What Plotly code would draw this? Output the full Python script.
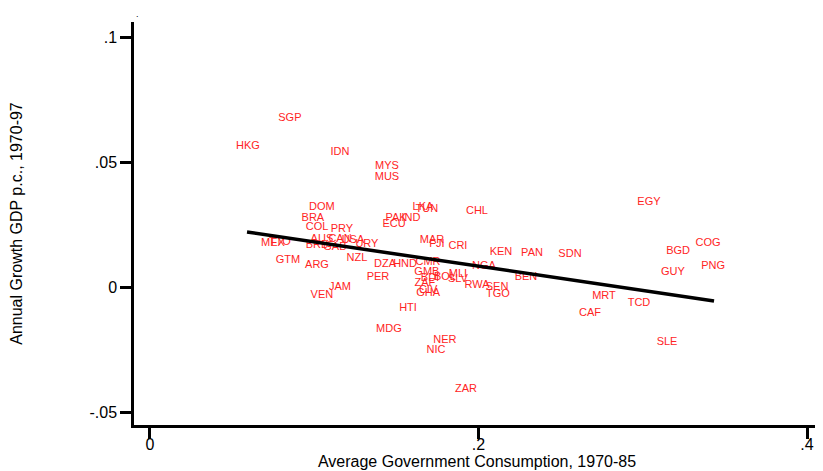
import plotly.graph_objects as go

# Country codes and positions
countries = ['SGP', 'HKG', 'IDN', 'MYS', 'MUS', 'DOM', 'BRA', 'LKA', 'TUN', 'CHL',
             'PAK', 'IND', 'ECU', 'COL', 'PRY', 'MEX', 'TTO', 'AUS', 'CAN', 'USA',
             'BRB', 'GAB', 'URY', 'GTM', 'ARG', 'NZL', 'DZA', 'HND', 'CMR', 'MAR',
             'FJI', 'PER', 'GMB', 'JAM', 'VEN', 'HTI', 'CRI', 'KEN', 'PAN', 'SDN',
             'NGA', 'BEN', 'MLI', 'SLV', 'BDI', 'BOL', 'ZAF', 'RWA', 'SEN', 'TGO',
             'CIV', 'GHA', 'MDG', 'NER', 'NIC', 'ZAR', 'EGY', 'COG', 'BGD', 'PNG',
             'GUY', 'MRT', 'TCD', 'CAF', 'SLE']

gov_consumption = [0.0852, 0.0597, 0.1157, 0.1443, 0.1443, 0.1047, 0.0992, 0.1662, 0.1686, 0.1991,
                   0.1498, 0.1589, 0.1486, 0.1017, 0.1169, 0.0749, 0.0791, 0.1047, 0.1157, 0.1236,
                   0.1017, 0.1126, 0.1321, 0.0840, 0.1017, 0.1260, 0.1431, 0.1553, 0.1693, 0.1717,
                   0.1747, 0.1388, 0.1686, 0.1157, 0.1047, 0.1571, 0.1875, 0.2137, 0.2326, 0.2557,
                   0.2033, 0.2289, 0.1875, 0.1875, 0.1705, 0.1796, 0.1674, 0.1991, 0.2113, 0.2119,
                   0.1693, 0.1693, 0.1455, 0.1796, 0.1741, 0.1924, 0.3038, 0.3397, 0.3215, 0.3428,
                   0.3184, 0.2764, 0.2977, 0.2679, 0.3148]

gdp_growth = [0.0676, 0.0564, 0.0540, 0.0484, 0.0440, 0.0320, 0.0276, 0.0320, 0.0312, 0.0304,
              0.0276, 0.0276, 0.0252, 0.0240, 0.0232, 0.0176, 0.0180, 0.0192, 0.0192, 0.0188,
              0.0168, 0.0160, 0.0172, 0.0108, 0.0088, 0.0116, 0.0092, 0.0092, 0.0100, 0.0188,
              0.0172, 0.0040, 0.0060, 0.0000, -0.0032, -0.0084, 0.0164, 0.0140, 0.0136, 0.0132,
              0.0084, 0.0040, 0.0052, 0.0032, 0.0036, 0.0040, 0.0016, 0.0008, 0.0000, -0.0028,
              -0.0012, -0.0024, -0.0168, -0.0212, -0.0252, -0.0408, 0.0340, 0.0176, 0.0144, 0.0084,
              0.0060, -0.0036, -0.0064, -0.0104, -0.0220]

# Fitted line end points
fit_x = [0.0591, 0.3434]
fit_y = [0.0220, -0.0056]

x_ticks = [0, 0.2, 0.4]
x_tick_labels = ['0', '.2', '.4']
y_ticks = [-0.05, 0, 0.05, 0.1]
y_tick_labels = ['-.05', '0', '.05', '.1']

fig = go.Figure()

fig.add_trace(go.Scatter(x=gov_consumption,
                         y=gdp_growth,
                         mode='text',
                         text=countries,
                         textposition='middle center',
                         textfont=dict(color='#ff2424', size=11),
                         hoverinfo='text',
                         showlegend=False))

fig.add_trace(go.Scatter(x=fit_x,
                         y=fit_y,
                         mode='lines',
                         line=dict(color='black', width=3.5),
                         showlegend=False))

axis_style = dict(showline=True,
                  linecolor='black',
                  linewidth=2.5,
                  ticks='outside',
                  ticklen=11,
                  tickwidth=2.5,
                  tickcolor='black',
                  showgrid=False,
                  zeroline=False,
                  automargin=False,
                  tickfont=dict(size=16, color='black'))

fig.update_xaxes(range=[-0.0097, 0.4079],
                 tickvals=x_ticks,
                 ticktext=x_tick_labels,
                 ticklabelstandoff=-8,
                 title=dict(text='Average Government Consumption, 1970-85',
                            font=dict(size=16, color='black'),
                            standoff=0),
                 **axis_style)
fig.update_yaxes(range=[-0.0552, 0.106],
                 tickvals=y_ticks,
                 ticktext=y_tick_labels,
                 title=dict(text='Annual Growth GDP p.c., 1970-97',
                            font=dict(size=16, color='black'),
                            standoff=66),
                 **axis_style)

fig.add_annotation(text='.',
                   xref='paper', yref='paper',
                   x=0.0, y=1.0,
                   yanchor='bottom',
                   yshift=1,
                   showarrow=False,
                   font=dict(size=9, color='black'))

# page body has an 8px margin, so the figure is made 8px smaller on each side
fig.update_layout(width=815,
                  height=463,
                  margin=dict(l=126, r=3, t=14, b=46),
                  plot_bgcolor='white',
                  paper_bgcolor='white',
                  font_family='Liberation Sans, Arial')

fig.write_html("out.html")
